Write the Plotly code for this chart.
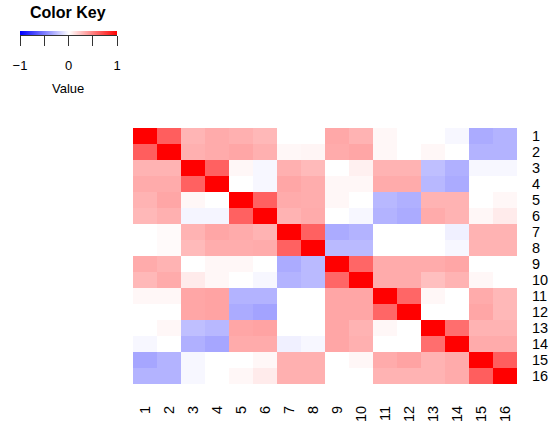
import plotly.graph_objects as go

labels = [str(i) for i in range(1, 17)]

corr = [
    [1.00, 0.63, 0.29, 0.33, 0.31, 0.28, 0.00, 0.00, 0.34, 0.30, 0.03, 0.00, 0.00, -0.03, -0.33, -0.30],
    [0.63, 1.00, 0.31, 0.33, 0.35, 0.31, 0.03, 0.04, 0.33, 0.35, 0.03, 0.00, 0.03, 0.00, -0.30, -0.30],
    [0.30, 0.30, 1.00, 0.62, 0.03, -0.03, 0.31, 0.27, 0.00, 0.06, 0.30, 0.30, -0.25, -0.31, -0.03, -0.03],
    [0.33, 0.33, 0.62, 1.00, 0.00, -0.03, 0.35, 0.32, 0.03, 0.03, 0.33, 0.33, -0.28, -0.33, 0.00, 0.00],
    [0.30, 0.35, 0.03, 0.00, 1.00, 0.62, 0.33, 0.32, 0.03, 0.00, -0.28, -0.31, 0.30, 0.30, 0.00, 0.03],
    [0.28, 0.31, -0.04, -0.04, 0.62, 1.00, 0.30, 0.33, 0.00, -0.03, -0.30, -0.33, 0.33, 0.30, 0.03, 0.08],
    [0.00, 0.02, 0.30, 0.35, 0.33, 0.30, 1.00, 0.62, -0.33, -0.30, 0.00, 0.00, 0.00, -0.06, 0.30, 0.30],
    [0.00, 0.02, 0.27, 0.32, 0.32, 0.33, 0.62, 1.00, -0.27, -0.27, 0.00, 0.00, 0.00, -0.03, 0.30, 0.30],
    [0.33, 0.30, 0.00, 0.03, 0.03, 0.00, -0.33, -0.27, 1.00, 0.60, 0.33, 0.33, 0.33, 0.35, 0.00, 0.00],
    [0.28, 0.33, 0.08, 0.03, 0.00, -0.03, -0.30, -0.27, 0.60, 1.00, 0.33, 0.33, 0.25, 0.30, 0.03, 0.00],
    [0.03, 0.03, 0.35, 0.36, -0.30, -0.30, 0.00, 0.00, 0.35, 0.35, 1.00, 0.60, 0.03, 0.00, 0.33, 0.28],
    [0.00, 0.00, 0.35, 0.36, -0.33, -0.36, 0.00, 0.00, 0.35, 0.35, 0.60, 1.00, 0.00, 0.00, 0.35, 0.28],
    [0.00, 0.03, -0.25, -0.28, 0.35, 0.36, 0.00, 0.00, 0.35, 0.30, 0.03, 0.00, 1.00, 0.57, 0.30, 0.30],
    [-0.03, 0.00, -0.31, -0.35, 0.33, 0.33, -0.06, -0.03, 0.35, 0.31, 0.00, 0.00, 0.57, 1.00, 0.33, 0.33],
    [-0.35, -0.30, -0.03, 0.00, 0.00, 0.03, 0.31, 0.31, 0.00, 0.03, 0.33, 0.36, 0.30, 0.33, 1.00, 0.63],
    [-0.30, -0.30, -0.03, 0.00, 0.03, 0.08, 0.31, 0.31, 0.00, 0.00, 0.30, 0.30, 0.30, 0.33, 0.63, 1.00],
]

key_limits = [-1, 1]
key_ticks = [-1, -0.5, 0, 0.5, 1]
key_ticktext = ["\u22121", "", "0", "", "1"]

colorscale = [[0.0, "#0000FF"], [0.5, "#FFFFFF"], [1.0, "#FF0000"]]
FONT = "Liberation Sans, Arial, Helvetica, sans-serif"

fig = go.Figure()

fig.add_trace(go.Heatmap(
    z=corr, x=labels, y=labels,
    colorscale=colorscale, zmin=-1, zmax=1,
    showscale=False, xgap=0, ygap=0,
    xaxis="x", yaxis="y",
))

fig.add_trace(go.Heatmap(
    z=[key_limits], x=key_limits, y=[0],
    colorscale=colorscale, zmin=-1, zmax=1,
    showscale=False, zsmooth="best",
    xaxis="x2", yaxis="y2", hoverinfo="skip",
))

W, H = 557, 426
fig.update_layout(
    width=W, height=H,
    margin=dict(l=0, r=0, t=0, b=0),
    paper_bgcolor="white", plot_bgcolor="white",
    font=dict(family=FONT, color="black"),
    xaxis=dict(
        domain=[133 / W, 517 / W], type="category",
        tickmode="array", tickvals=labels, ticktext=labels,
        tickangle=-90, ticks="", showline=False, showgrid=False, zeroline=False,
        tickfont=dict(size=14.5), ticklabelstandoff=18, anchor="y",
        automargin=False,
    ),
    yaxis=dict(
        domain=[(H - 384) / H, (H - 128) / H], type="category",
        tickmode="array", tickvals=labels, ticktext=labels,
        autorange="reversed", side="right", ticks="", showline=False,
        showgrid=False, zeroline=False, tickfont=dict(size=14.5),
        ticklabelstandoff=14, anchor="x", automargin=False,
    ),
    xaxis2=dict(
        domain=[20 / W, 117 / W], range=key_limits, anchor="y2",
        tickmode="array", tickvals=key_ticks, ticktext=key_ticktext,
        ticks="outside", ticklen=10, tickwidth=1, tickcolor="#333",
        showline=True, linecolor="#333", linewidth=1, showgrid=False,
        zeroline=False, tickfont=dict(size=13), ticklabelstandoff=8,
        automargin=False,
    ),
    yaxis2=dict(
        domain=[(H - 35) / H, (H - 31) / H], range=[-0.5, 0.5], anchor="x2",
        showticklabels=False, ticks="", showgrid=False, zeroline=False,
        showline=False, automargin=False,
    ),
    annotations=[
        dict(text="<b>Color Key</b>", x=68 / W, y=(H - 13) / H, xref="paper",
             yref="paper", showarrow=False, font=dict(size=16),
             xanchor="center", yanchor="middle"),
        dict(text="Value", x=68 / W, y=(H - 88) / H, xref="paper",
             yref="paper", showarrow=False, font=dict(size=13),
             xanchor="center", yanchor="middle"),
    ],
)

fig.write_html(
    "out.html",
    config={"displayModeBar": False},
    post_script="document.body.style.margin='0';document.body.style.padding='0';",
)
